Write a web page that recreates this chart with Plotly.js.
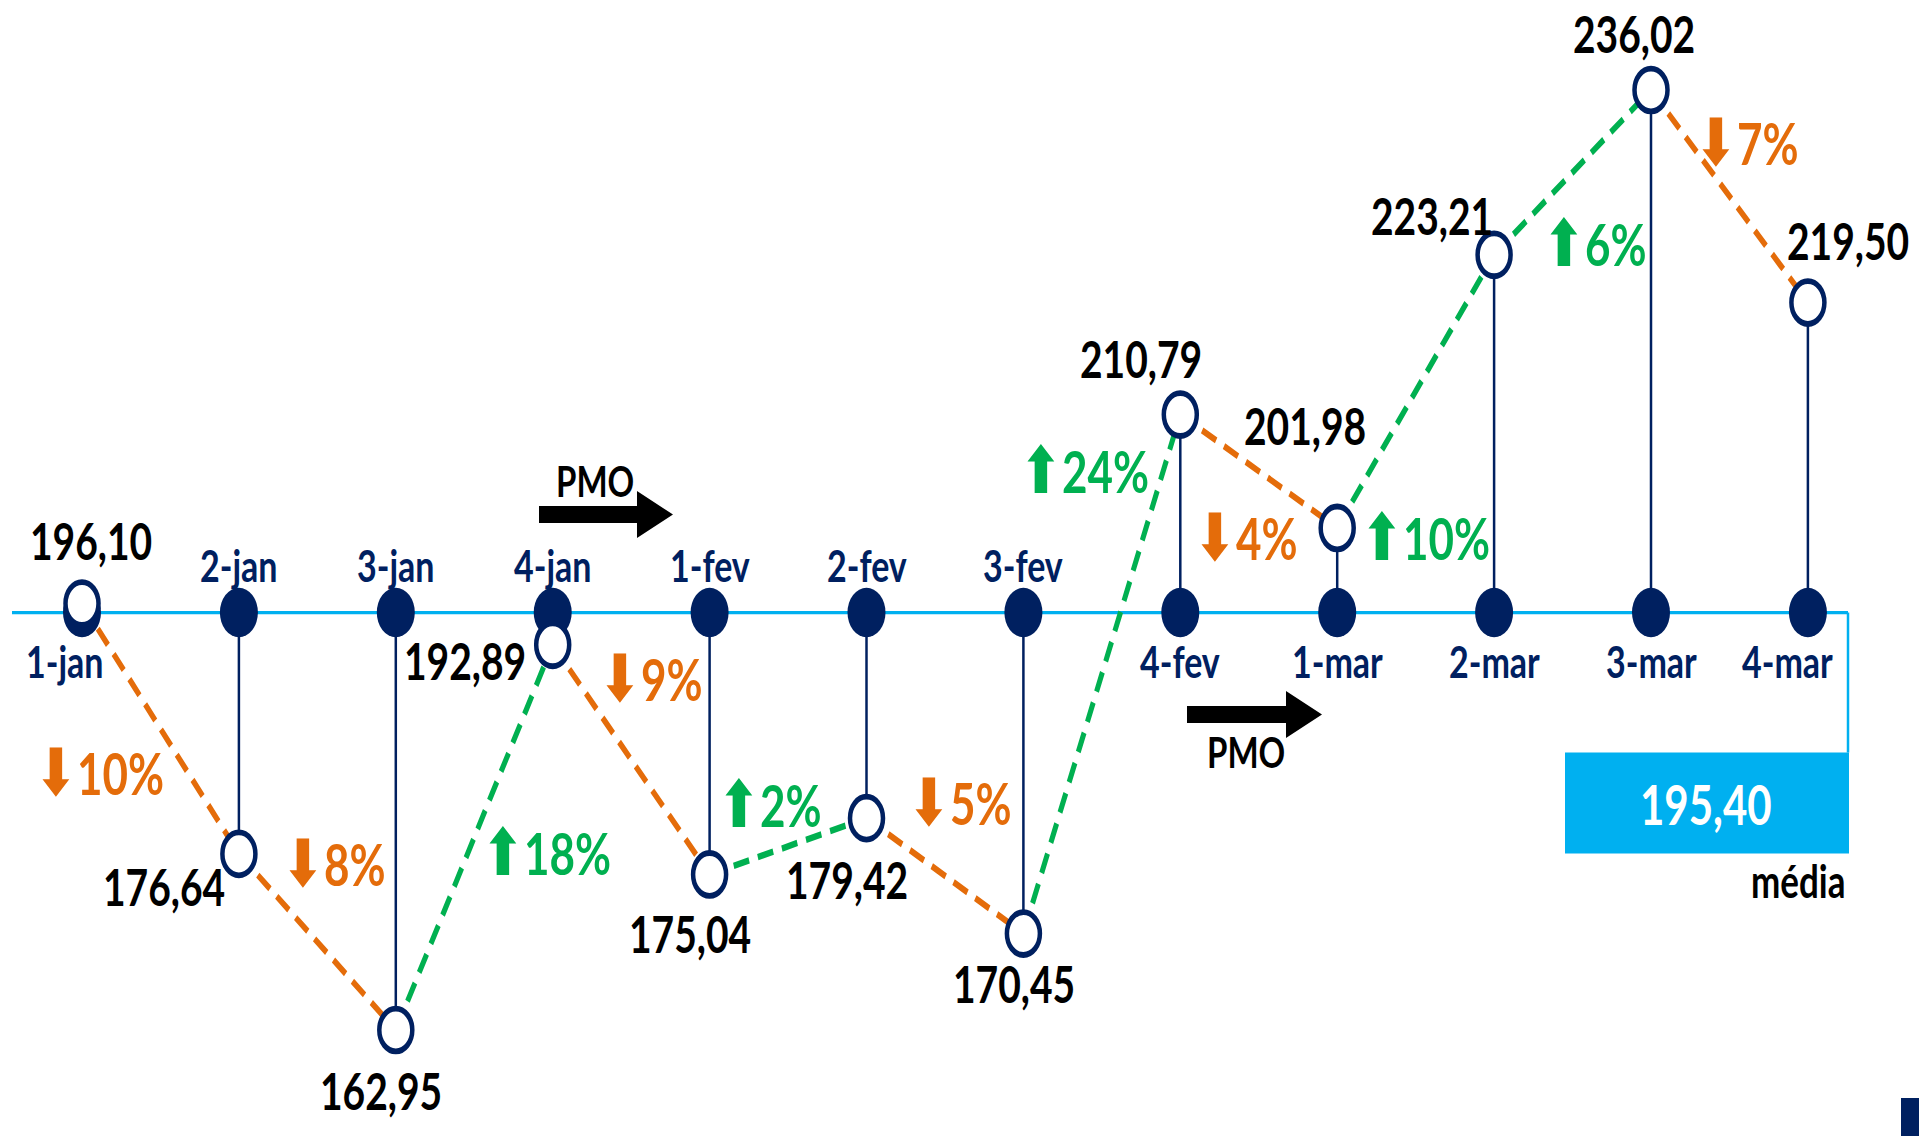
<!DOCTYPE html>
<html><head><meta charset="utf-8">
<script src="https://cdn.plot.ly/plotly-3.0.1.min.js"></script>
<style>
html,body{margin:0;padding:0;background:#fff;overflow:hidden;}
#wrap{width:1919px;height:1136px;overflow:hidden;position:relative;}
#chart{width:1919px;height:874px;transform:scaleY(1.29977);transform-origin:0 0;}
</style></head><body><div id="wrap"><div id="chart"></div></div>
<script>
// ---- data ----
const weeks = ['1-jan','2-jan','3-jan','4-jan','1-fev','2-fev','3-fev','4-fev','1-mar','2-mar','3-mar','4-mar'];
const prices = [196.10,176.64,162.95,192.89,175.04,179.42,170.45,210.79,201.98,223.21,236.02,219.50];
const changeLabels = ['10%','8%','18%','9%','2%','5%','24%','4%','10%','6%','7%'];
const average = 195.40;
const averageLabel = '195,40';
const averageCaption = 'média';
const pmoLabel = 'PMO';

// ---- style ----
const NAVY = '#002060', ORANGE = '#E46C0A', GREEN = '#00B050', CYAN = '#00B0F0';
const FONT = "Lato, 'DejaVu Sans', sans-serif";
const W = 1919, H = 1136, PH = 874, S = H / PH;
const px2x = v => v / W;
const px2y = v => 1 - v / H;

// category placement
const x0px = 82, step = 156.9;
// vertical scale: max and min at chosen pixel rows
const vmax = Math.max(...prices), vmin = Math.min(...prices);
const maxPx = 90, minPx = 1030;
const ppu = (minPx - maxPx) / (vmax - vmin);
const yTop = vmax + maxPx / ppu;
const yBot = vmax - (H - maxPx) / ppu;
const axisPx = (yTop - average) * ppu;

const fmt = v => v.toFixed(2).replace('.', ',');

const traces = [];
// stems
const sx = [], sy = [];
weeks.forEach((w, i) => { sx.push(w, w, null); sy.push(average, prices[i], null); });
traces.push({x: sx, y: sy, mode: 'lines', line: {color: NAVY, width: 2.5}, hoverinfo: 'skip'});
// change segments
for (let i = 0; i < prices.length - 1; i++) {
  const up = prices[i + 1] > prices[i];
  traces.push({x: [weeks[i], weeks[i + 1]], y: [prices[i], prices[i + 1]], mode: 'lines',
    line: {color: up ? GREEN : ORANGE, width: 5, dash: '16px,9px'}, hoverinfo: 'skip'});
}
// baseline dots
traces.push({x: weeks, y: weeks.map(() => average), mode: 'markers',
  marker: {size: 38, color: NAVY}, hoverinfo: 'skip'});
// value circles
traces.push({x: weeks, y: prices, mode: 'markers',
  marker: {size: 33, color: '#ffffff', line: {color: NAVY, width: 4.5}}, hoverinfo: 'skip'});

const ann = [];
// value labels (offsets in final px: dx, dy down)
const valOff = [[9,-63],[-75,33],[-15,60],[-88,15],[-20,59],[-20,62],[-9,50],[-39,-56],[-32,-103],[-62,-39],[-17,-56],[40,-62]];
prices.forEach((p, i) => {
  ann.push({x: i, y: p, text: '<b>' + fmt(p) + '</b>', showarrow: false, xanchor: 'center', yanchor: 'middle',
    xshift: valOff[i][0], yshift: -valOff[i][1] / S,
    font: {family: FONT, size: 39, color: '#000000'}});
});
// category labels
weeks.forEach((w, i) => {
  const below = prices[i] > average;
  let xs = 0;
  if (i === 0) xs = -18;
  if (i === weeks.length - 1) xs = -20;
  ann.push({x: i, y: average, text: '<b>' + w + '</b>', showarrow: false, xanchor: 'center', yanchor: 'middle',
    xshift: xs, yshift: (below ? -48 : 48) / S,
    font: {family: FONT, size: 34, color: NAVY}});
});
// change labels
const pctOff = [[-61,45],[17,-78],[72,15],[20,-81],[-18,-42],[15,-73],[-17,-204],[-13,67],[10,147],[22,72],[18,-53]];
changeLabels.forEach((t, i) => {
  const up = prices[i + 1] > prices[i];
  const col = up ? GREEN : ORANGE;
  ann.push({x: i + 0.5, y: (prices[i] + prices[i + 1]) / 2, xanchor: 'center', yanchor: 'middle',
    text: '<b><span style="font-family:DejaVu Sans;font-size:50px">' + (up ? '⬆' : '⬇') + '</span>' + t + '</b>',
    showarrow: false, xshift: pctOff[i][0], yshift: -pctOff[i][1] / S,
    font: {family: FONT, size: 44, color: col}});
});
// PMO labels
const paperText = (x, y, text, size, color, xa) => ({xref: 'paper', yref: 'paper', x: px2x(x), y: px2y(y),
  xanchor: xa || 'center', yanchor: 'middle', text: '<b>' + text + '</b>', showarrow: false,
  font: {family: FONT, size: size, color: color}});
ann.push(paperText(595, axisPx - 133, pmoLabel, 33, '#000'));
ann.push(paperText(1246, axisPx + 139, pmoLabel, 33, '#000'));
// average box text
ann.push(paperText(1706, axisPx + 192, averageLabel, 42, '#ffffff'));
ann.push(paperText(1848, axisPx + 268, averageCaption, 35, '#000', 'right'));

function arrowPath(xs, xe, yc) {
  const xh = xe - 36, h1 = 8.5, h2 = 23.5;
  const P = (a, b) => px2x(a).toFixed(5) + ',' + px2y(b).toFixed(5);
  return 'M' + P(xs, yc - h1) + ' L' + P(xh, yc - h1) + ' L' + P(xh, yc - h2) + ' L' + P(xe, yc) +
    ' L' + P(xh, yc + h2) + ' L' + P(xh, yc + h1) + ' L' + P(xs, yc + h1) + ' Z';
}

const shapes = [
  {type: 'line', layer: 'below', xref: 'paper', yref: 'y', x0: px2x(12), x1: px2x(1848), y0: average, y1: average,
    line: {color: CYAN, width: 2.5}},
  {type: 'line', layer: 'below', xref: 'paper', yref: 'paper', x0: px2x(1848), x1: px2x(1848), y0: px2y(axisPx), y1: px2y(axisPx + 140),
    line: {color: CYAN, width: 2.5}},
  {type: 'rect', xref: 'paper', yref: 'paper', x0: px2x(1565), x1: px2x(1849), y0: px2y(axisPx + 140), y1: px2y(axisPx + 241),
    fillcolor: CYAN, line: {width: 0}},
  {type: 'path', xref: 'paper', yref: 'paper', path: arrowPath(539, 673, axisPx - 98), fillcolor: '#000', line: {width: 0}},
  {type: 'path', xref: 'paper', yref: 'paper', path: arrowPath(1187, 1322, axisPx + 102), fillcolor: '#000', line: {width: 0}},
  {type: 'rect', xref: 'paper', yref: 'paper', x0: px2x(1901), x1: 1, y0: 0, y1: px2y(1098), fillcolor: NAVY, line: {width: 0}}
];

const layout = {
  width: W, height: PH, margin: {l: 0, r: 0, t: 0, b: 0, pad: 0},
  paper_bgcolor: '#ffffff', plot_bgcolor: '#ffffff', showlegend: false,
  xaxis: {type: 'category', range: [-x0px / step, (W - x0px) / step], visible: false, fixedrange: true},
  yaxis: {range: [yBot, yTop], visible: false, fixedrange: true},
  annotations: ann, shapes: shapes
};
Plotly.newPlot('chart', traces, layout, {staticPlot: true, displayModeBar: false});
</script></body></html>
